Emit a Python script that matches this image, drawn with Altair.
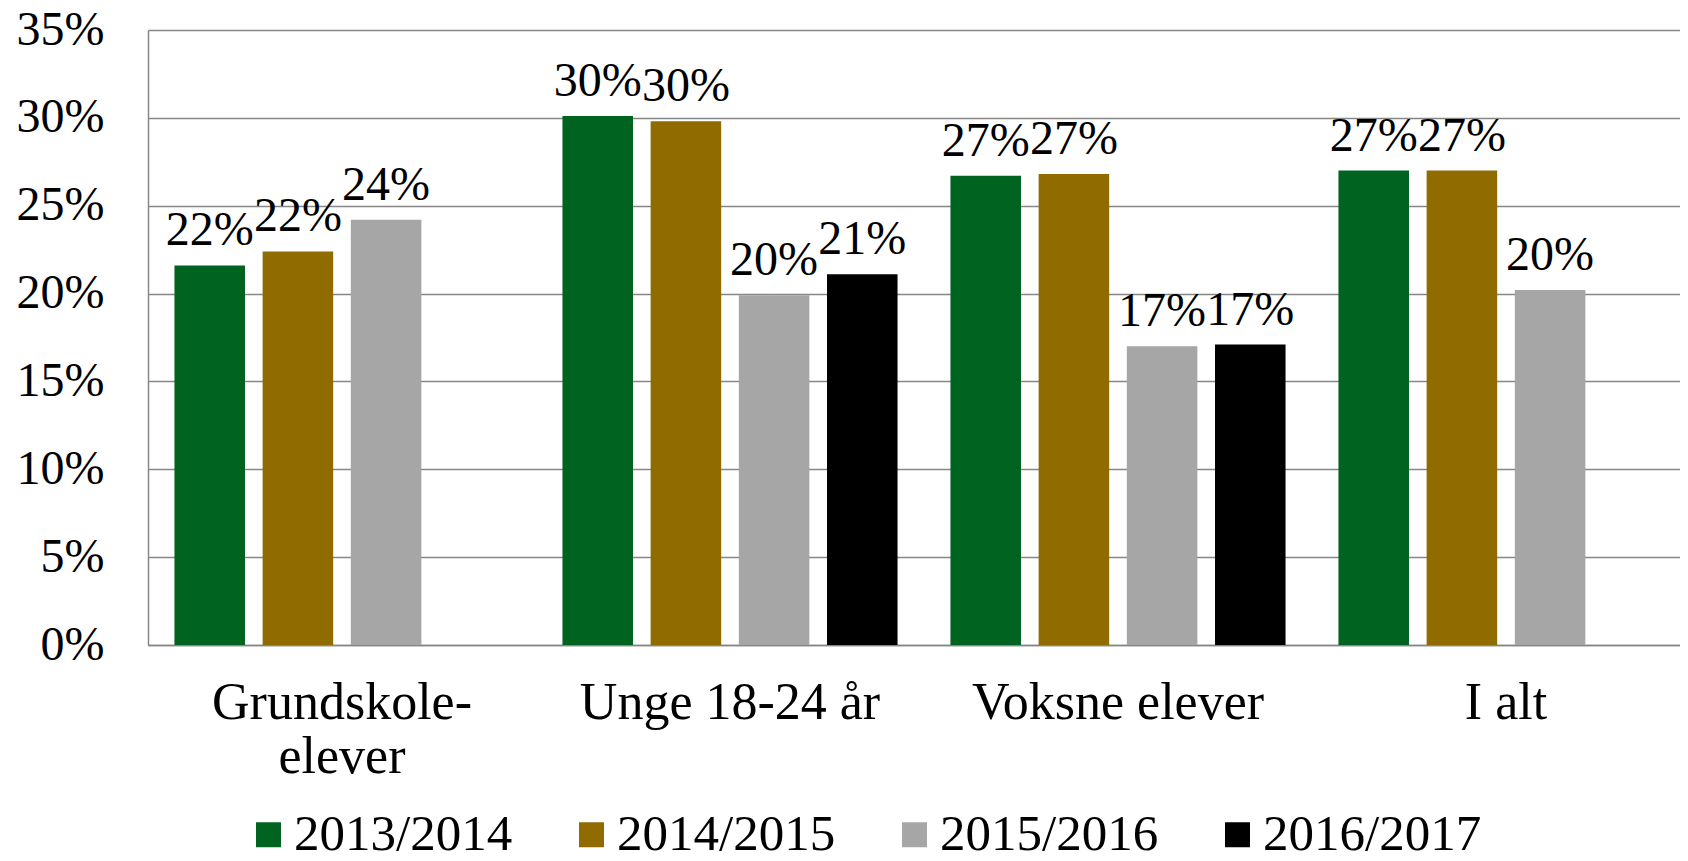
import altair as alt
import pandas as pd

categories = ["Grundskole-elever", "Unge 18-24 år", "Voksne elever", "I alt"]
years = ["2013/2014", "2014/2015", "2015/2016", "2016/2017"]
colors = ["#006420", "#8F6B00", "#A6A6A6", "#000000"]

# values in percent, None = no bar
v_2013 = [21.6, 30.1, 26.7, 27.0]
v_2014 = [22.4, 29.8, 26.8, 27.0]
v_2015 = [24.2, 19.9, 17.0, 20.2]
v_2016 = [None, 21.1, 17.1, None]

rows = []
for yr, vals in zip(years, [v_2013, v_2014, v_2015, v_2016]):
    for cat, v in zip(categories, vals):
        if v is not None:
            rows.append({"kategori": cat, "aar": yr, "andel": v / 100})
df = pd.DataFrame(rows)

FONT = "Liberation Serif"

x_enc = alt.X(
    "kategori:N",
    sort=categories,
    title=None,
    scale=alt.Scale(range=[0, 1552], paddingInner=0, paddingOuter=0),
    axis=alt.Axis(
        labelAngle=0,
        labelFont=FONT,
        labelFontSize=52,
        labelColor="black",
        labelPadding=32,
        labelLineHeight=54,
        labelLimit=600,
        ticks=False,
        domainColor="#868686",
        domainWidth=1.5,
        labelExpr="datum.value == 'Grundskole-elever' ? ['Grundskole-', 'elever'] : datum.label",
    ),
)
xoff_enc = alt.XOffset(
    "aar:N", sort=years, scale=alt.Scale(paddingInner=0.2, paddingOuter=0.3)
)
y_enc = alt.Y(
    "andel:Q",
    title=None,
    scale=alt.Scale(domain=[0, 0.35], nice=False),
    axis=alt.Axis(
        values=[0, 0.05, 0.10, 0.15, 0.20, 0.25, 0.30, 0.35],
        format=".0%",
        labelFont=FONT,
        labelFontSize=48,
        labelColor="black",
        labelPadding=44,
        ticks=False,
        grid=True,
        gridColor="#868686",
        gridWidth=1.5,
        domainColor="#868686",
        domainWidth=1.5,
    ),
)
color_enc = alt.Color(
    "aar:N",
    sort=years,
    scale=alt.Scale(domain=years, range=colors),
    legend=alt.Legend(
        title=None,
        orient="none",
        legendX=95,
        legendY=779,
        direction="horizontal",
        columns=4,
        symbolType="square",
        symbolSize=625,
        symbolStrokeWidth=0,
        labelFont=FONT,
        labelFontSize=51,
        labelColor="black",
        labelOffset=0,
        labelLimit=400,
        columnPadding=53,
    ),
)

bars = alt.Chart(df).mark_bar().encode(
    x=x_enc, xOffset=xoff_enc, y=y_enc, color=color_enc
)
labels = alt.Chart(df).mark_text(
    font=FONT, fontSize=48, color="black", baseline="alphabetic", dy=-20
).encode(
    x=alt.X("kategori:N", sort=categories),
    xOffset=alt.XOffset("aar:N", sort=years),
    y="andel:Q",
    text=alt.Text("andel:Q", format=".0%"),
)

chart = (
    alt.layer(bars, labels)
    .properties(
        width=1532,
        height=615,
        autosize=alt.AutoSizeParams(type="none"),
        padding={"left": 140, "top": 22, "right": 0, "bottom": 208},
    )
    .configure_view(stroke=None)
    .configure(background="white")
)

chart.save("out.html", embed_options={"renderer": "svg", "actions": False})
